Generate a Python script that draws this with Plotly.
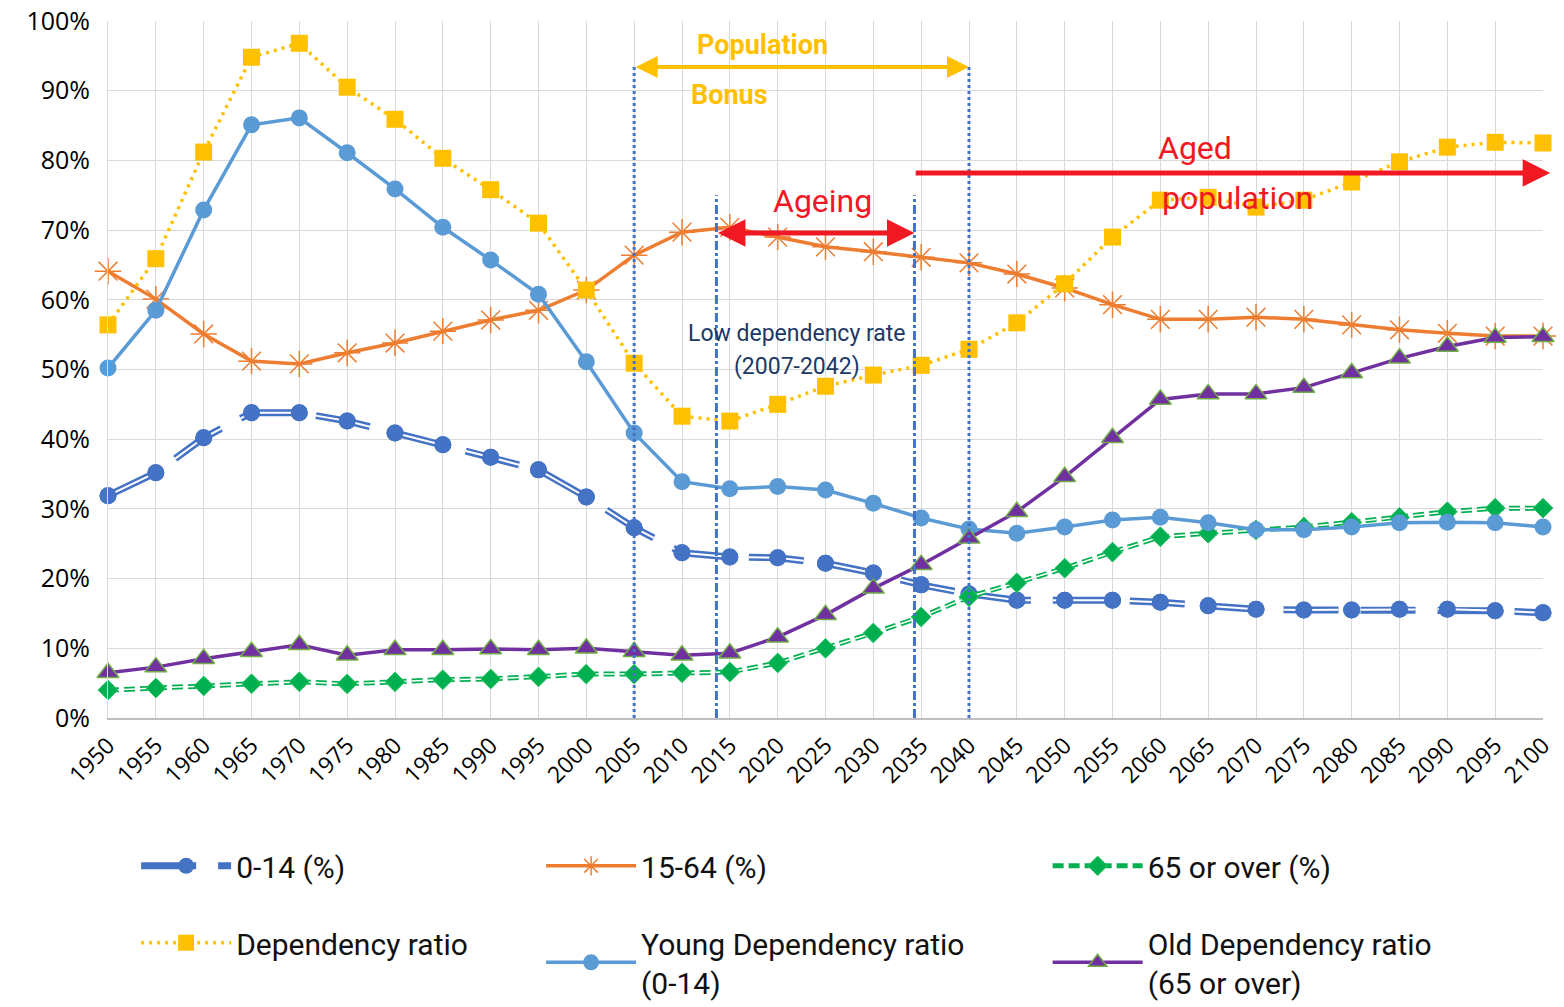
import plotly.graph_objects as go

years = list(range(1950, 2101, 5))

age_0_14 = [31.9, 35.2, 40.2, 43.8, 43.8, 42.6, 40.9, 39.2, 37.4, 35.6, 31.7, 27.3, 23.7, 23.1, 23.0,
            22.2, 20.8, 19.1, 17.8, 16.9, 16.9, 16.9, 16.6, 16.1, 15.6, 15.5, 15.5, 15.6, 15.6, 15.4, 15.1]
age_15_64 = [64.1, 60.1, 55.1, 51.2, 50.8, 52.4, 53.8, 55.5, 57.1, 58.5, 61.4, 66.4, 69.7, 70.4, 69.0,
             67.6, 66.9, 66.1, 65.3, 63.7, 61.7, 59.3, 57.2, 57.2, 57.5, 57.2, 56.4, 55.7, 55.2, 54.8, 54.8]
age_65_over = [4.0, 4.3, 4.6, 4.9, 5.2, 4.9, 5.2, 5.5, 5.6, 5.9, 6.3, 6.3, 6.5, 6.6, 7.9,
               10.0, 12.2, 14.5, 17.4, 19.4, 21.5, 23.8, 26.0, 26.5, 27.0, 27.4, 28.1, 28.8, 29.6, 30.1, 30.1]
dependency = [56.4, 65.9, 81.2, 94.8, 96.8, 90.5, 85.9, 80.3, 75.8, 71.0, 61.4, 50.9, 43.3, 42.6, 45.0,
              47.6, 49.2, 50.6, 52.9, 56.7, 62.3, 69.0, 74.3, 74.7, 73.3, 74.3, 76.9, 79.8, 81.9, 82.6, 82.5]
young_dep = [50.2, 58.5, 72.9, 85.1, 86.1, 81.1, 75.9, 70.4, 65.7, 60.8, 51.1, 40.9, 33.9, 32.9, 33.2,
             32.7, 30.8, 28.7, 27.1, 26.5, 27.4, 28.4, 28.8, 28.0, 27.0, 27.0, 27.4, 28.0, 28.1, 28.0, 27.4]
old_dep = [6.5, 7.3, 8.5, 9.5, 10.5, 9.0, 9.8, 9.8, 9.9, 9.8, 10.0, 9.5, 9.0, 9.3, 11.6,
           14.8, 18.6, 22.0, 25.8, 29.6, 34.6, 40.2, 45.7, 46.5, 46.5, 47.4, 49.5, 51.6, 53.3, 54.6, 54.7]

y_ticks = list(range(0, 101, 10))
y_ticktext = [f"{v}%" for v in y_ticks]

DARKBLUE = "#4472C4"
ORANGE = "#ED7D31"
GREEN = "#00B050"
YELLOW = "#FFC000"
LIGHTBLUE = "#5B9BD5"
PURPLE = "#7030A0"
RED = "#F01923"

fig = go.Figure()

# 0-14 (%) double dashed line
fig.add_trace(go.Scatter(x=years, y=age_0_14, name="0-14 (%)", mode="lines+markers",
                         line=dict(color=DARKBLUE, width=7, dash="55px,22px"),
                         marker=dict(symbol="circle", size=17, color=DARKBLUE),
                         legend="legend", legendgroup="a", cliponaxis=False))
fig.add_trace(go.Scatter(x=years, y=age_0_14, mode="lines", showlegend=False, hoverinfo="skip",
                         line=dict(color="white", width=2, dash="55px,22px"), cliponaxis=False))
fig.add_trace(go.Scatter(x=years, y=age_0_14, mode="markers", showlegend=False,
                         marker=dict(symbol="circle", size=17, color=DARKBLUE), cliponaxis=False))

# 15-64
fig.add_trace(go.Scatter(x=years, y=age_15_64, name="15-64 (%)", mode="lines+markers",
                         line=dict(color=ORANGE, width=3.5),
                         marker=dict(symbol="asterisk-open", size=22, color=ORANGE,
                                     line=dict(color=ORANGE, width=1.5)),
                         legend="legend2", legendgroup="b", cliponaxis=False))

# 65 or over double dashed
fig.add_trace(go.Scatter(x=years, y=age_65_over, name="65 or over (%)", mode="lines+markers",
                         line=dict(color=GREEN, width=5, dash="11px,5px"),
                         marker=dict(symbol="diamond", size=15, color=GREEN,
                                     line=dict(color="#2CC46A", width=1)),
                         legend="legend3", legendgroup="c", cliponaxis=False))
fig.add_trace(go.Scatter(x=years, y=age_65_over, mode="lines", showlegend=False, hoverinfo="skip",
                         line=dict(color="white", width=1.5, dash="11px,5px"), cliponaxis=False))
fig.add_trace(go.Scatter(x=years, y=age_65_over, mode="markers", showlegend=False,
                         marker=dict(symbol="diamond", size=15, color=GREEN,
                                     line=dict(color="#2CC46A", width=1)), cliponaxis=False))

# Dependency ratio
fig.add_trace(go.Scatter(x=years, y=dependency, name="Dependency ratio", mode="lines+markers",
                         line=dict(color=YELLOW, width=3.5, dash="3px,5px"),
                         marker=dict(symbol="square", size=17, color=YELLOW),
                         legend="legend", legendgroup="d", cliponaxis=False))

# Young dependency ratio
fig.add_trace(go.Scatter(x=years, y=young_dep, name="Young Dependency ratio<br>(0-14)", mode="lines+markers",
                         line=dict(color=LIGHTBLUE, width=3.5),
                         marker=dict(symbol="circle", size=17, color=LIGHTBLUE),
                         legend="legend2", legendgroup="e", cliponaxis=False))

# Old dependency ratio
fig.add_trace(go.Scatter(x=years, y=old_dep, name="Old Dependency ratio<br>(65 or over)", mode="lines+markers",
                         line=dict(color=PURPLE, width=3.5),
                         marker=dict(symbol="triangle-up", size=19, color=PURPLE,
                                     line=dict(color="#70AD47", width=1.5)),
                         legend="legend3", legendgroup="f", cliponaxis=False))

# Vertical reference lines
for xv in [2005, 2040]:
    fig.add_shape(type="line", x0=xv, x1=xv, y0=0, y1=93.6, xref="x", yref="y",
                  line=dict(color=DARKBLUE, width=3, dash="dot"), layer="above")
for xv in [2013.6, 2034.3]:
    fig.add_shape(type="line", x0=xv, x1=xv, y0=0, y1=75.0, xref="x", yref="y",
                  line=dict(color=DARKBLUE, width=3, dash="dashdot"), layer="above")

# Arrows
fig.add_annotation(x=2040, y=93.4, ax=2005, ay=93.4, xref="x", yref="y", axref="x", ayref="y",
                   showarrow=True, arrowhead=2, arrowside="end+start", arrowsize=1.1,
                   arrowwidth=4, arrowcolor=YELLOW, text="")
fig.add_annotation(x=2034.3, y=69.6, ax=2013.6, ay=69.6, xref="x", yref="y", axref="x", ayref="y",
                   showarrow=True, arrowhead=2, arrowside="end+start", arrowsize=1.1,
                   arrowwidth=5, arrowcolor=RED, text="")
fig.add_annotation(x=1.005, y=78.2, ax=-636, ay=0, xref="paper", yref="y", axref="pixel", ayref="pixel",
                   showarrow=True, arrowhead=2, arrowsize=1.1,
                   arrowwidth=5, arrowcolor=RED, text="")

# Texts
tf = "Roboto"
fig.add_annotation(x=2018.4, y=96.6, xref="x", yref="y", showarrow=False, text="<b>Population</b>",
                   font=dict(family=tf, size=27, color=YELLOW))
fig.add_annotation(x=2015.0, y=89.4, xref="x", yref="y", showarrow=False, text="<b>Bonus</b>",
                   font=dict(family=tf, size=27, color=YELLOW))
fig.add_annotation(x=2024.7, y=74.2, xref="x", yref="y", showarrow=False, text="Ageing",
                   font=dict(family=tf, size=32, color=RED))
fig.add_annotation(x=2063.6, y=81.8, xref="x", yref="y", showarrow=False, text="Aged",
                   font=dict(family=tf, size=32, color=RED))
fig.add_annotation(x=2068.1, y=74.6, xref="x", yref="y", showarrow=False, text="population",
                   font=dict(family=tf, size=32, color=RED))
fig.add_annotation(x=2022.0, y=55.1, xref="x", yref="y", showarrow=False, text="Low dependency rate",
                   font=dict(family=tf, size=23, color="#203864"))
fig.add_annotation(x=2022.0, y=50.4, xref="x", yref="y", showarrow=False, text="(2007-2042)",
                   font=dict(family=tf, size=23, color="#203864"))

leg_common = dict(orientation="v", bgcolor="rgba(0,0,0,0)", itemwidth=90,
                  font=dict(family=tf, size=30, color="#111111"), tracegroupgap=35,
                  yanchor="top", xanchor="left", itemsizing="trace")

fig.update_layout(
    width=1564, height=1007,
    margin=dict(l=108, r=21, t=21, b=289, autoexpand=False),
    paper_bgcolor="white", plot_bgcolor="white",
    font=dict(family="Open Sans", color="black"),
    xaxis=dict(range=[1950, 2100], tickmode="array", tickvals=years, ticktext=[str(y) for y in years],
               tickangle=-45, tickfont=dict(size=23, family="Open Sans"), automargin=False,
               ticklabelstandoff=3, ticklabeloverflow="allow",
               showgrid=True, gridcolor="#D9D9D9", gridwidth=1,
               showline=True, linecolor="#BFBFBF", linewidth=2, zeroline=False, ticks=""),
    yaxis=dict(range=[0, 100], tickmode="array", tickvals=y_ticks, ticktext=y_ticktext,
               tickfont=dict(size=25, family="Open Sans"), automargin=False,
               ticklabelstandoff=12, ticklabeloverflow="allow",
               showgrid=True, gridcolor="#D9D9D9", gridwidth=1, zeroline=False,
               showline=True, linecolor="#D9D9D9", ticks=""),
    legend=dict(x=0.0196, y=-0.1748, **leg_common),
    legend2=dict(x=0.3018, y=-0.1748, **leg_common),
    legend3=dict(x=0.6548, y=-0.1748, **leg_common),
)

fig.write_html("out.html", config={"displayModeBar": False},
               post_script="document.body.style.margin='0px';document.body.style.overflow='hidden';")
